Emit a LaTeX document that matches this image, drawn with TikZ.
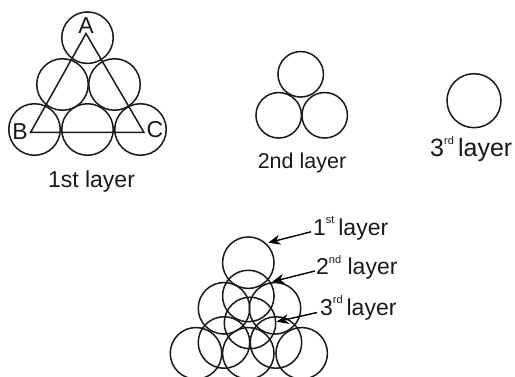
\documentclass[tikz,border=0pt]{standalone}
\usepackage{fontspec}
\setmainfont{Liberation Sans}
\usetikzlibrary{arrows.meta}
\newcommand{\ordsup}[1]{\raisebox{0.5em}{\fontsize{11}{11}\selectfont #1}}
\tikzset{
    ball/.style={draw=black!90,line width=1.5pt,circle,inner sep=0pt,minimum size=51.5pt},
    smallball/.style={ball,minimum size=45.5pt},
    bigball/.style={ball,minimum size=54pt},
    lab/.style={inner sep=0pt,text=black!90,font=\fontsize{23}{23}\selectfont},
    pointer/.style={line width=1.4pt,-{Stealth[length=12pt,width=10pt]}}
}
\begin{document}
\begin{tikzpicture}[x=1pt,y=-1pt]
    \useasboundingbox (0,0) rectangle (515,377);
    % 1st layer
    \foreach \name/\xx/\yy in {a/87.5/37.7,d/62.5/84.5,e/114.5/84.5,b/34.5/129.5,f/87.5/129.5,c/140.5/129.5}
        \node[ball] (\name) at (\xx,\yy) {};
    \coordinate (ptA) at (86,33.5);
    \coordinate (ptB) at (30.5,132.5);
    \coordinate (ptC) at (144,132.5);
    \draw[line width=1.5pt,black!90,line join=miter] (ptA)--(ptB)--(ptC)--cycle;
    \node[lab] (labA) at (86,26) {A};
    \node[lab] (labB) at (20,132) {B};
    \node[lab] (labC) at (155,130) {C};
    \node[lab,anchor=base] (lab1st) at (91.5,188) {1st layer};
    % 2nd layer
    \foreach \name/\xx/\yy in {g/300.7/74.3,h/278.7/115.3,i/324.7/115.3}
        \node[smallball] (\name) at (\xx,\yy) {};
    \node[lab,anchor=base,font=\fontsize{21.5}{21.5}\selectfont] (lab2nd) at (302,169) {2nd layer};
    % 3rd layer
    \node[bigball] (j) at (474,100.7) {};
    \node[lab,anchor=base west,font=\fontsize{25}{25}\selectfont] (lab3rd) at (430,157) {3\ordsup{rd}\,layer};
    % all layers
    \foreach \name/\xx/\yy in {k/248.3/262.7,l/248.3/296,m/224/308.3,n/275/308.3,o/250/323,
        p/224/342.5,q/276/342.5,r/196/353.3,s/248.3/353.3,t/301.7/353.3}
        \node[ball] (\name) at (\xx,\yy) {};
    \node[lab,anchor=base west] (top1) at (313,235.5) {1\ordsup{st}\,layer};
    \node[lab,anchor=base west] (top2) at (316,275) {2\ordsup{nd} layer};
    \node[lab,anchor=base west] (top3) at (320,315.5) {3\ordsup{rd}\,layer};
    \coordinate (tip1) at (268.3,242.7);
    \coordinate (tip2) at (272.3,281.7);
    \coordinate (tip3) at (276.7,321.7);
    \draw[pointer] (top1.base west)++(-2,-3.7) -- (tip1);
    \draw[pointer] (top2.base west)++(-1,-4) -- (tip2);
    \draw[pointer] (top3.base west)++(-3,-3) -- (tip3);
\end{tikzpicture}
\end{document}
